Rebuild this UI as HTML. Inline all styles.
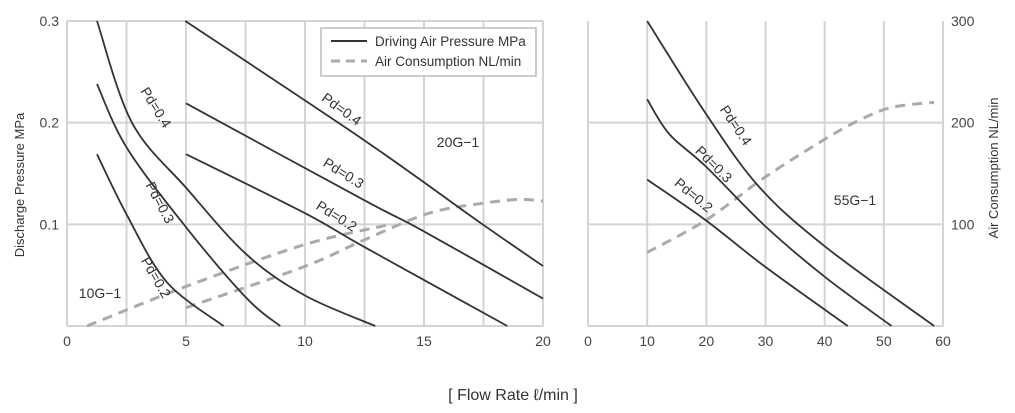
<!DOCTYPE html>
<html><head><meta charset="utf-8"><style>
body{margin:0;background:#fff;}
svg{display:block;font-family:"Liberation Sans",sans-serif;}
</style></head><body>
<svg id="chart" width="1015" height="413" viewBox="0 0 1015 413" xmlns="http://www.w3.org/2000/svg">
<g id="gridL"></g>
<g id="gridR"></g>
<g id="series"></g>
<g id="labels" font-size="14" fill="#333"></g>
<text transform="translate(24,185) rotate(-90)" text-anchor="middle" font-size="13" fill="#333">Discharge Pressure MPa</text>
<text transform="translate(998,168) rotate(-90)" text-anchor="middle" font-size="13" fill="#333">Air Consumption NL/min</text>
<text x="513" y="400" text-anchor="middle" font-size="16" fill="#333">[ Flow Rate ℓ/min ]</text>
<g>
<rect x="321" y="28" width="215" height="48" fill="#fff" stroke="#bbb" stroke-width="1.5"/>
<line x1="331" y1="41" x2="367" y2="41" stroke="#333" stroke-width="2"/>
<text x="375" y="46" font-size="13.5" fill="#333">Driving Air Pressure MPa</text>
<line x1="331" y1="61" x2="367" y2="61" stroke="#aaa" stroke-width="3" stroke-dasharray="9,6"/>
<text x="375" y="66" font-size="13.5" fill="#333">Air Consumption NL/min</text>
</g>
</svg>
<script>
const leftXTicks=[0,5,10,15,20];
const leftYTicks=[0.1,0.2,0.3];
const rightXTicks=[0,10,20,30,40,50,60];
const rightYTicks=[100,200,300];
const g10_04=[[1.26,0.3],[2.73,0.2],[5.04,0.135],[7.56,0.07],[10,0.03],[12.95,0]];
const g10_03=[[1.26,0.238],[2.52,0.175],[5.04,0.096],[7.56,0.027],[8.96,0]];
const g10_02=[[1.26,0.169],[2.52,0.109],[4.2,0.043],[6.58,0]];
const g20_04=[[4.97,0.3],[12.47,0.183],[17.4,0.101],[20,0.059]];
const g20_03=[[5,0.219],[12.47,0.124],[15,0.093],[20,0.027]];
const g20_02=[[5,0.169],[10,0.111],[12.47,0.078],[18.5,0]];
const g10_air=[[0.84,0],[4.97,38.6],[9.92,79.6],[13.4,99]];
const g20_air=[[5,18],[9.92,58],[12.47,84.5],[15.17,110.7],[17.4,120.5],[19,124.5],[20,122.8]];
const g55_04=[[10,0.3],[19.9,0.209],[28.9,0.137],[40.1,0.078],[58.5,0]];
const g55_03=[[10,0.223],[13.7,0.189],[19.9,0.157],[30,0.098],[40.1,0.048],[51.3,0]];
const g55_02=[[10,0.144],[19.9,0.104],[30,0.058],[43.9,0]];
const g55_air=[[10,72.4],[19.9,104],[30,146.7],[40.1,184],[45.7,202],[51.3,215],[58.5,220]];

const NS="http://www.w3.org/2000/svg";
const T=21,B=326;
const lx=v=>67+v*(543-67)/20;
const rx=v=>588+v*(943-588)/60;
const yp=v=>B-v*(B-T)/0.3;
const ya=v=>B-v*(B-T)/300;
function mk(tag,attrs,parent){const e=document.createElementNS(NS,tag);for(const k in attrs)e.setAttribute(k,attrs[k]);parent.appendChild(e);return e;}
function grid(gid,x0,x1,xs,xfn,ticks,yfn,ylabels,side){
  const g=document.getElementById(gid);
  xs.forEach(v=>{const l=mk('line',{x1:xfn(v),x2:xfn(v),y1:T,y2:B,stroke:'#d4d4d4','stroke-width':2},g);
    
    });
  ticks.forEach(v=>{const l=mk('line',{x1:x0,x2:x1,y1:yfn(v),y2:yfn(v),stroke:'#d4d4d4','stroke-width':2},g);
    
    });
  mk('line',{x1:x0,x2:x1,y1:B,y2:B,stroke:'#d4d4d4','stroke-width':2},g);
  mk('line',{x1:x0,x2:x0,y1:T,y2:B,stroke:'#d4d4d4','stroke-width':2},g);
  ylabels.forEach(v=>{const t=mk('text',{x:side==='L'?x0-8:x1+8,y:yfn(v)+5,'text-anchor':side==='L'?'end':'start','font-size':14,fill:'#444'},g);
    
    
    t.textContent=String(v);});
}
const lgx=[];for(let v=2.5;v<=20;v+=2.5)lgx.push(v);
grid('gridL',67,543,lgx,lx,leftYTicks,yp,leftYTicks,'L');
grid('gridR',588,943,rightXTicks.slice(1),rx,rightYTicks.slice(0,2),ya,rightYTicks,'R');
const gl=document.getElementById('gridL');
leftXTicks.forEach(v=>{const t=mk('text',{x:lx(v),y:346,'text-anchor':'middle','font-size':14,fill:'#444'},gl);
  
  
  t.textContent=v;});
const gr=document.getElementById('gridR');
rightXTicks.forEach(v=>{const t=mk('text',{x:rx(v),y:346,'text-anchor':'middle','font-size':14,fill:'#444'},gr);
  
  
  t.textContent=v;});
function path(pts,xf,yf){
  const p=pts.map(d=>[xf(d[0]),yf(d[1])]);
  let s='M'+p[0][0]+','+p[0][1];
  for(let i=0;i<p.length-1;i++){
    const p0=p[i-1]||p[i],p1=p[i],p2=p[i+1],p3=p[i+2]||p2;
    const c1=[p1[0]+(p2[0]-p0[0])/6,p1[1]+(p2[1]-p0[1])/6];
    const c2=[p2[0]-(p3[0]-p1[0])/6,p2[1]-(p3[1]-p1[1])/6];
    s+=' C'+c1+' '+c2+' '+p2;
  }
  return s;
}
const sg=document.getElementById('series');
function line(pts,xf,yf,dashed,name){
  const e=mk('path',{d:path(pts,xf,yf),fill:'none',stroke:dashed?'#aaa':'#333','stroke-width':dashed?3:1.8},sg);
  if(dashed)e.setAttribute('stroke-dasharray','10,7');
  
  
}
line(g10_air,lx,ya,true,'air-10g');
line(g20_air,lx,ya,true,'air-20g');
line(g55_air,rx,ya,true,'air-55g');
line(g10_04,lx,yp,false,'pd04-10g');
line(g10_03,lx,yp,false,'pd03-10g');
line(g10_02,lx,yp,false,'pd02-10g');
line(g20_04,lx,yp,false,'pd04-20g');
line(g20_03,lx,yp,false,'pd03-20g');
line(g20_02,lx,yp,false,'pd02-20g');
line(g55_04,rx,yp,false,'pd04-55g');
line(g55_03,rx,yp,false,'pd03-55g');
line(g55_02,rx,yp,false,'pd02-55g');
const lb=document.getElementById('labels');
[["Pd=0.4",155,108,58],["Pd=0.3",159,203,62],["Pd=0.2",155,278,60],
 ["Pd=0.4",341,110,36],["Pd=0.3",343,174,32],["Pd=0.2",336,217,32],
 ["Pd=0.4",735,126,56],["Pd=0.3",713,165,45],["Pd=0.2",693,196,40]].forEach(a=>{
  const t=mk('text',{transform:`translate(${a[1]},${a[2]}) rotate(${a[3]})`,'text-anchor':'middle','dominant-baseline':'middle','font-size':14},lb);
  
  
  t.textContent=a[0];});
[["20G−1",458,147],["10G−1",100,298],["55G−1",855,205]].forEach(a=>{
  const t=mk('text',{x:a[1],y:a[2],'text-anchor':'middle','font-size':14},lb);
  
  
  t.textContent=a[0];});
</script>
</body></html>
